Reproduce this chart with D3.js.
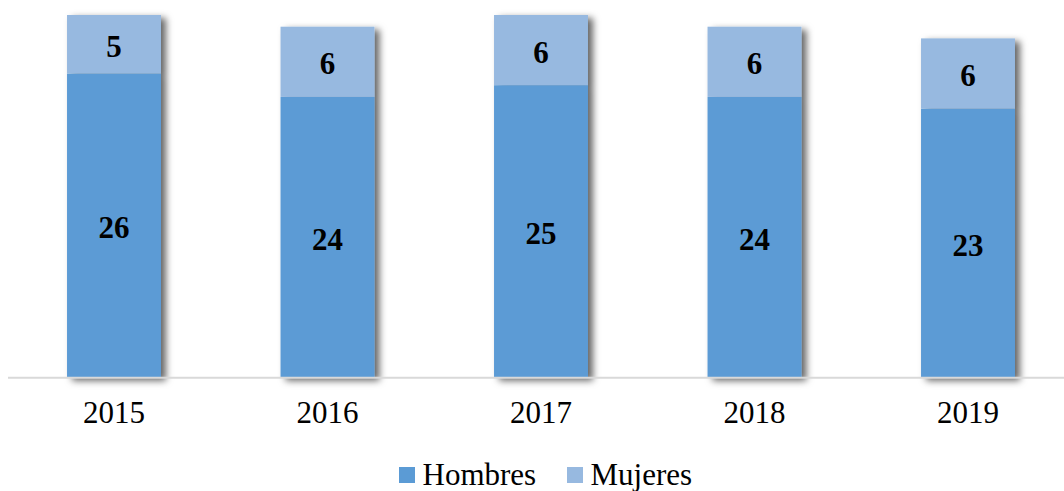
<!DOCTYPE html>
<html>
<head>
<meta charset="utf-8">
<script src="https://cdn.jsdelivr.net/npm/d3@7"></script>
<style>
  html, body { margin: 0; padding: 0; background: #fff; }
  svg { display: block; }
</style>
</head>
<body>
<svg id="chart" width="1064" height="491"></svg>
<script>
const years = ["2015", "2016", "2017", "2018", "2019"];
const hombres = [26, 24, 25, 24, 23];
const mujeres = [5, 6, 6, 6, 6];
const seriesNames = ["Hombres", "Mujeres"];
const colors = ["#5B9BD5", "#97B9E0"];

const svg = d3.select("#chart");
const font = "'Liberation Serif', 'Times New Roman', serif";

const defs = svg.append("defs");
const f = defs.append("filter").attr("id", "shadow")
  .attr("x", "-20%").attr("y", "-10%").attr("width", "150%").attr("height", "130%");
f.append("feDropShadow").attr("dx", 5).attr("dy", 3).attr("stdDeviation", 3.5)
  .attr("flood-color", "#000").attr("flood-opacity", 0.6);

const x = d3.scaleBand().domain(years).range([7.25, 1074.75])
  .paddingInner(0.56).paddingOuter(0.28);
const y = d3.scaleLinear().domain([0, 31]).range([377.7, 15]);

const data = years.map((yr, i) => ({ year: yr, Hombres: hombres[i], Mujeres: mujeres[i] }));
const stack = d3.stack().keys(seriesNames)(data);

const groups = svg.append("g").selectAll("g.year")
  .data(data).join("g").attr("class", "year").attr("filter", "url(#shadow)");

groups.each(function(d, i) {
  const g = d3.select(this);
  stack.forEach((s, k) => {
    const seg = s[i];
    g.append("rect")
      .attr("x", x(d.year))
      .attr("width", x.bandwidth())
      .attr("y", y(seg[1]))
      .attr("height", y(seg[0]) - y(seg[1]))
      .attr("fill", colors[k]);
  });
});

// value labels
stack.forEach((s, k) => {
  svg.append("g").selectAll("text").data(s).join("text")
    .attr("x", (d, i) => x(years[i]) + x.bandwidth() / 2)
    .attr("y", d => (y(d[0]) + y(d[1])) / 2)
    .attr("dy", "0.4em")
    .attr("text-anchor", "middle")
    .attr("font-family", font)
    .attr("font-weight", "bold")
    .attr("font-size", 31)
    .attr("fill", "#000")
    .text(d => d3.format("d")(d[1] - d[0]));
});

// x axis
const axis = svg.append("g").attr("transform", `translate(0,${y(0)})`)
  .call(d3.axisBottom(x).tickSize(0).tickPadding(0));
axis.select(".domain").attr("stroke", "#d9d9d9").attr("stroke-width", 2)
  .attr("d", "M8,0H1064");
axis.selectAll("text")
  .attr("font-family", font).attr("font-size", 31).attr("fill", "#000")
  .attr("dy", null).attr("y", 45.5);

// legend
const legend = svg.append("g");
const legendItems = [{ name: seriesNames[0], x: 399 }, { name: seriesNames[1], x: 567 }];
legendItems.forEach((it, k) => {
  legend.append("rect").attr("x", it.x).attr("y", 467).attr("width", 16).attr("height", 16)
    .attr("fill", colors[k]);
  legend.append("text").attr("x", it.x + 23.5).attr("y", 485)
    .attr("font-family", font).attr("font-size", 31).attr("fill", "#000")
    .text(it.name);
});
</script>
</body>
</html>
